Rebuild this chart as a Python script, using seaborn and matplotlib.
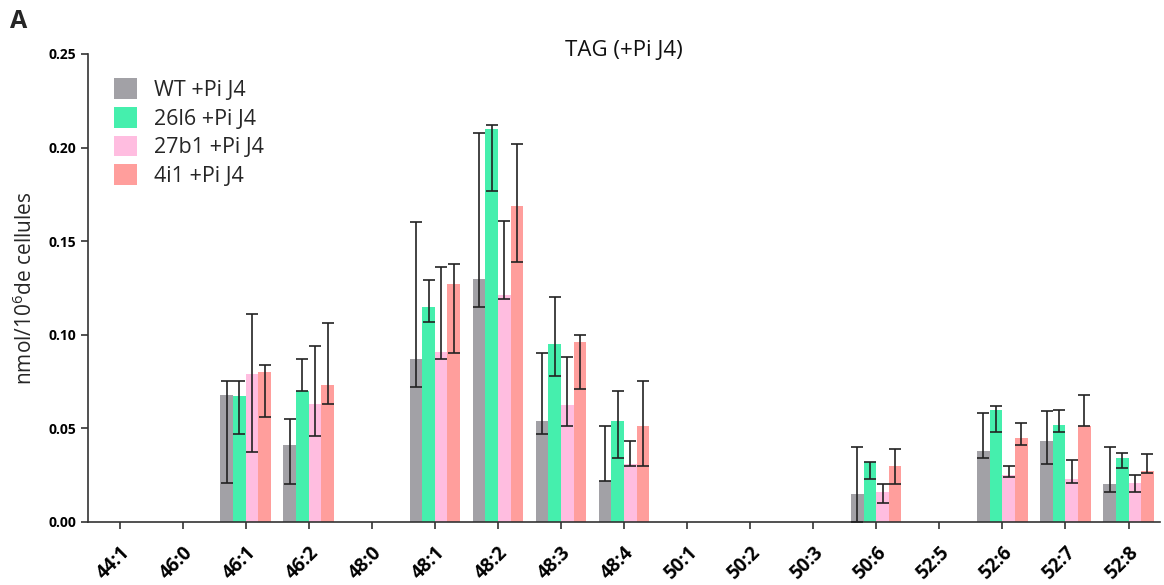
import numpy as np
import pandas as pd
import matplotlib
matplotlib.use("Agg")
import matplotlib.pyplot as plt
import seaborn as sns

# --- données ---
lipides = ["44:1", "46:0", "46:1", "46:2", "48:0", "48:1", "48:2", "48:3", "48:4",
           "50:1", "50:2", "50:3", "50:6", "52:5", "52:6", "52:7", "52:8"]
souches = ["WT +Pi J4", "26l6 +Pi J4", "27b1 +Pi J4", "4i1 +Pi J4"]
couleurs = ["#A2A1A6", "#45EFAD", "#FFBDE0", "#FF9E9C"]

nan = np.nan
wt = [0, 0, 0.068, 0.041, 0, 0.087, 0.130, 0.054, 0.022, 0, 0, 0, 0.015, 0, 0.038, 0.043, 0.020]
wt_bas = [nan, nan, 0.021, 0.020, nan, 0.072, 0.115, 0.047, 0.022, nan, nan, nan, 0.000, nan, 0.034, 0.031, 0.016]
wt_haut = [nan, nan, 0.075, 0.055, nan, 0.160, 0.208, 0.090, 0.051, nan, nan, nan, 0.040, nan, 0.058, 0.059, 0.040]

s26l6 = [0, 0, 0.067, 0.070, 0, 0.115, 0.210, 0.095, 0.054, 0, 0, 0, 0.032, 0, 0.060, 0.052, 0.034]
s26l6_bas = [nan, nan, 0.047, 0.070, nan, 0.107, 0.177, 0.078, 0.034, nan, nan, nan, 0.023, nan, 0.048, 0.048, 0.029]
s26l6_haut = [nan, nan, 0.075, 0.087, nan, 0.129, 0.212, 0.120, 0.070, nan, nan, nan, 0.032, nan, 0.062, 0.060, 0.037]

s27b1 = [0, 0, 0.079, 0.063, 0, 0.091, 0.121, 0.0625, 0.031, 0, 0, 0, 0.016, 0, 0.025, 0.023, 0.021]
s27b1_bas = [nan, nan, 0.0375, 0.046, nan, 0.087, 0.119, 0.051, 0.030, nan, nan, nan, 0.010, nan, 0.024, 0.021, 0.016]
s27b1_haut = [nan, nan, 0.111, 0.094, nan, 0.136, 0.161, 0.088, 0.043, nan, nan, nan, 0.020, nan, 0.030, 0.033, 0.025]

s4i1 = [0, 0, 0.080, 0.073, 0, 0.127, 0.169, 0.096, 0.051, 0, 0, 0, 0.030, 0, 0.045, 0.051, 0.027]
s4i1_bas = [nan, nan, 0.056, 0.063, nan, 0.090, 0.139, 0.071, 0.030, nan, nan, nan, 0.020, nan, 0.041, 0.051, 0.026]
s4i1_haut = [nan, nan, 0.084, 0.106, nan, 0.138, 0.202, 0.100, 0.075, nan, nan, nan, 0.039, nan, 0.053, 0.068, 0.036]

valeurs = [wt, s26l6, s27b1, s4i1]
bornes_bas = [wt_bas, s26l6_bas, s27b1_bas, s4i1_bas]
bornes_haut = [wt_haut, s26l6_haut, s27b1_haut, s4i1_haut]

df = pd.DataFrame({
    "lipide": lipides * len(souches),
    "souche": np.repeat(souches, len(lipides)),
    "valeur": np.concatenate(valeurs),
})

sns.set_theme(style="ticks")
plt.rcParams["font.family"] = ["Open Sans", "DejaVu Sans"]
plt.rcParams["mathtext.fontset"] = "custom"
plt.rcParams["mathtext.rm"] = "Open Sans"

fig, ax = plt.subplots(figsize=(11.64, 5.85), dpi=100)
fig.subplots_adjust(left=0.0756, right=0.9966, bottom=0.108, top=0.9077)

sns.barplot(data=df, x="lipide", y="valeur", hue="souche", order=lipides,
            hue_order=souches, palette=couleurs, saturation=1, width=0.8,
            errorbar=None, linewidth=0, ax=ax)

# barres d'erreur (bornes asymétriques)
for cont, bas, haut in zip(ax.containers, bornes_bas, bornes_haut):
    for barre, b, h in zip(cont, bas, haut):
        if np.isnan(b):
            continue
        x = barre.get_x() + barre.get_width() / 2
        ax.errorbar(x, (b + h) / 2, yerr=(h - b) / 2, fmt="none",
                    ecolor="#222222", alpha=0.85, elinewidth=1.4,
                    capsize=4.5, capthick=1.4, zorder=5)

ax.set_xlim(-0.5, len(lipides) - 0.5)
ax.set_ylim(0, 0.25)
ax.set_yticks([0, 0.05, 0.10, 0.15, 0.20, 0.25])
ax.set_yticklabels(["0.00", "0.05", "0.10", "0.15", "0.20", "0.25"],
                   fontsize=10, fontweight="bold")
ax.set_xticks(range(len(lipides)))
ax.set_xticklabels(lipides, rotation=45, ha="right", rotation_mode="anchor",
                   fontsize=13.5, fontweight="bold")
ax.tick_params(axis="both", length=5, width=1.2, colors="#333333")
ax.tick_params(axis="x", labelcolor="black", pad=10)
ax.tick_params(axis="y", labelcolor="black")
sns.despine(ax=ax)
for s in ["left", "bottom"]:
    ax.spines[s].set_linewidth(1.2)
    ax.spines[s].set_color("#333333")

ax.set_xlabel("")
ax.set_ylabel(r"nmol/10$^{6}$de cellules", fontsize=15, labelpad=8)
ax.text(0.5, 1.008, "TAG (+Pi J4)", transform=ax.transAxes, fontsize=16,
        ha="center", va="center", color="#111111")

ax.legend(loc="upper left", bbox_to_anchor=(0.024, 0.948), frameon=False,
          fontsize=15.5, handlelength=1.1, handleheight=1.1, labelspacing=0.28,
          handletextpad=0.75, borderpad=0, borderaxespad=0)

fig.text(0.009, 0.985, "A", fontsize=18, fontweight="bold", va="top", ha="left")

fig.savefig("out.png", dpi=100)
